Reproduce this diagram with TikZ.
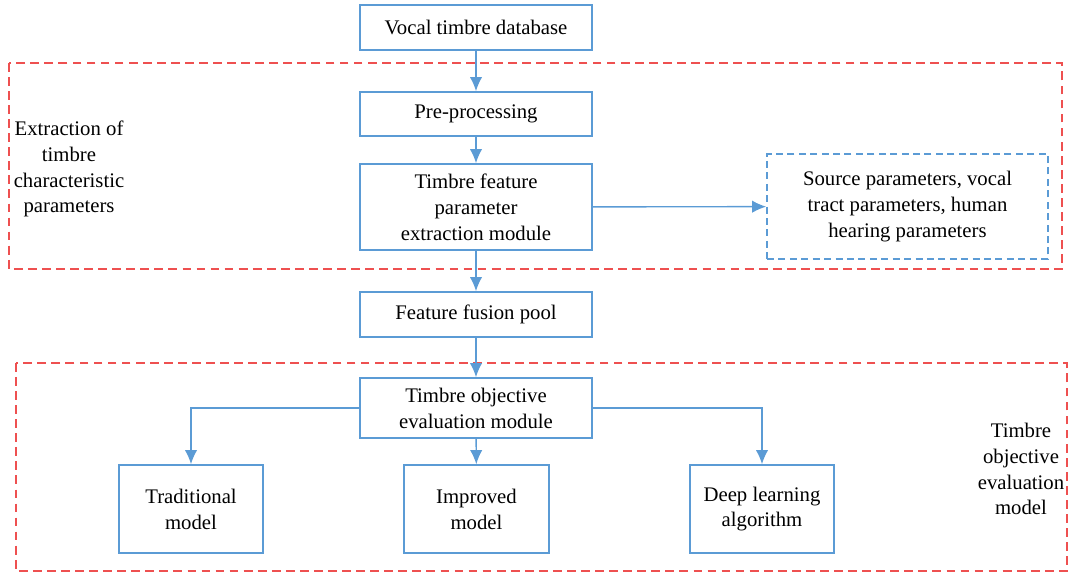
\documentclass[tikz,border=0pt]{standalone}
\usepackage{fontspec}
\setmainfont{Liberation Serif}
\usetikzlibrary{arrows.meta}
\definecolor{bl}{RGB}{91,155,213}
\definecolor{rd}{RGB}{238,80,80}
\begin{document}
\begin{tikzpicture}[x=0.02cm,y=-0.02cm,
  box/.style={draw=bl,line width=0.9pt,align=center,inner sep=2pt,font=\fontsize{11.8}{14.7}\selectfont},
  grp/.style={draw=rd,line width=0.8pt,dash pattern=on 5pt off 3pt},
  lbl/.style={align=center,font=\fontsize{11.8}{14.7}\selectfont},
  arr/.style={draw=bl,line width=0.8pt,-{Latex[length=8pt,width=7pt]}}]
\useasboundingbox (0,0) rectangle (1070,573);
\draw[grp] (9,63) rectangle (1062,269);
\draw[grp] (16,363) rectangle (1067,571);
\node[box,minimum width=4.64cm,minimum height=0.9cm] (db) at (476,27.5) {Vocal timbre database};
\node[box,minimum width=4.64cm,minimum height=0.88cm] (pre) at (476,114) {Pre-processing};
\node[box,minimum width=4.64cm,minimum height=1.72cm] (fe) at (476,207) {Timbre feature\\parameter\\extraction module};
\node[box,dash pattern=on 4pt off 2.5pt,minimum width=5.62cm,minimum height=2.1cm] (src) at (907.5,206.5) {Source parameters, vocal\\tract parameters, human\\hearing parameters};
\node[box,minimum width=4.64cm,minimum height=0.9cm] (fp) at (476,314.5) {Feature fusion pool};
\node[box,minimum width=4.64cm,minimum height=1.2cm] (te) at (476,408) {Timbre objective\\evaluation module};
\node[box,minimum width=2.88cm,minimum height=1.76cm] (tm) at (191,509) {Traditional\\model};
\node[box,minimum width=2.9cm,minimum height=1.76cm] (im) at (476.5,509) {Improved\\model};
\node[box,minimum width=2.88cm,minimum height=1.76cm] (dl) at (762,509) {Deep learning\\algorithm};
\node[lbl] (l1) at (69,169) {Extraction of\\timbre\\characteristic\\parameters};
\node[lbl] (l2) at (1021,469) {Timbre\\objective\\evaluation\\model};
\draw[arr] (db) -- (pre);
\draw[arr] (pre) -- (fe);
\draw[arr] (fe) -- (src);
\draw[arr] (fe) -- (fp);
\draw[arr] (fp) -- (te);
\draw[arr] (te) -- (im);
\draw[arr] (te.west) -| (tm.north);
\draw[arr] (te.east) -| (dl.north);
\end{tikzpicture}
\end{document}
